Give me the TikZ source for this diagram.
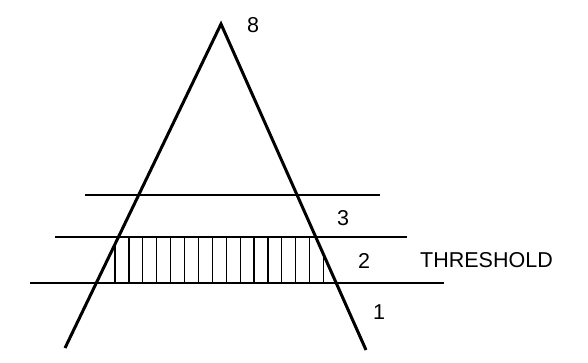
\documentclass[tikz,border=0pt]{standalone}
\usepackage{fontspec}
\setmainfont{Liberation Sans}
\usepackage{tikz}

\begin{document}
\begin{tikzpicture}[x=1pt,y=-1pt,
    leg/.style={line width=3pt},
    level/.style={line width=1.9pt},
    hatch/.style={line width=1.2pt},
    lbl/.style={font=\fontsize{21.5}{21.5}\selectfont, inner sep=0pt}]
    \useasboundingbox (0,0) rectangle (588,363);

    % Triangle
    \coordinate (apex) at (221,24);
    \coordinate (footL) at (65,348);
    \coordinate (footR) at (366,350);
    \draw[leg, line join=miter] (footL) -- (apex) -- (footR);

    % Levels
    \draw[level] (85,195) -- (380,195);
    \draw[level] (55,237) -- (407,237);
    \draw[level] (30,283) -- (444,283);

    % Hatching between levels 1 and 2
    \begin{scope}
        \clip (footL) -- (apex) -- (footR) -- cycle;
        \foreach \i in {0,...,15}
            \draw[hatch] ({115+13.9*\i},237) -- ({115+13.9*\i},283);
    \end{scope}

    % Labels
    \node[lbl] (top) at (253,25) {8};
    \node[lbl] (lvlc) at (343,218) {3};
    \node[lbl] (lvlb) at (364,261) {2};
    \node[lbl] (lvla) at (379,312) {1};
    \node[lbl, anchor=west] (thr) at (420,260) {THRESHOLD};
\end{tikzpicture}
\end{document}
